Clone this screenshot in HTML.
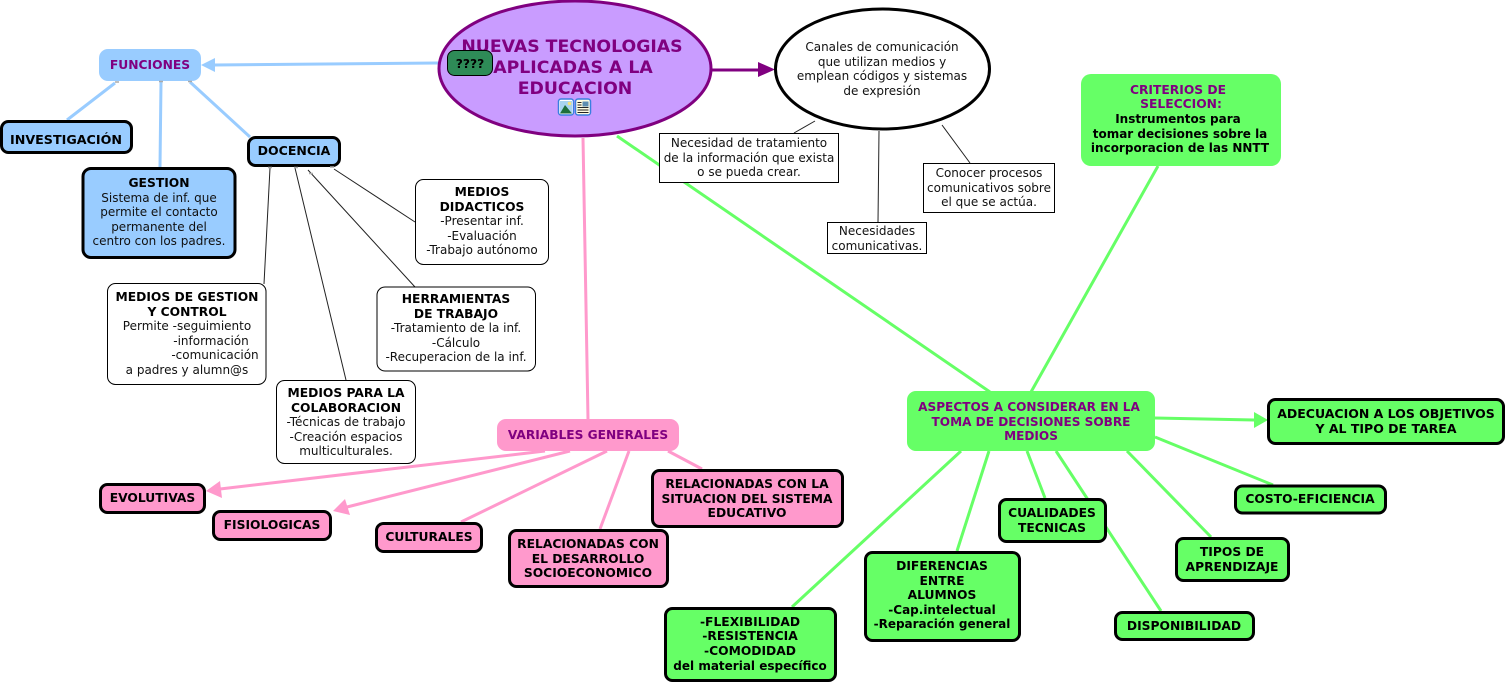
<!DOCTYPE html>
<html><head><meta charset="utf-8"><style>
html,body{margin:0;padding:0;background:#fff;width:1506px;height:683px;overflow:hidden}
svg{display:block}
text{font-family:"DejaVu Sans",Verdana,sans-serif;font-size:12px;text-anchor:middle;fill:#000}
.b{font-weight:bold;font-size:12.3px}
.l{font-weight:bold;font-size:12px}
.p{font-weight:bold;fill:#800080;font-size:12.3px}
.n{fill:#111;font-size:12px}
.t{font-weight:bold;fill:#800080;font-size:17.3px}
.box{stroke:#000;stroke-width:3}
.thin{fill:#fff;stroke:#000;stroke-width:1}
.bl{stroke:#99ccff;stroke-width:3;fill:none}
.pk{stroke:#ff99cc;stroke-width:3;fill:none}
.gr{stroke:#66ff66;stroke-width:3;fill:none}
.k{stroke:#222;stroke-width:1;fill:none}
</style></head><body>
<svg width="1506" height="683" viewBox="0 0 1506 683" xmlns="http://www.w3.org/2000/svg">
<!-- connectors -->
<path class="bl" d="M438 63L214 65M115 83L67 120M161 82L160 167M190 82L250 137"/>
<polygon points="201,65 215,58 215,72" fill="#99ccff"/>
<path d="M712 70H760" stroke="#800080" stroke-width="3" fill="none"/>
<polygon points="775,69.500 758,62 758,77" fill="#800080"/>
<path class="pk" d="M583 138L588 419M545 451L220 489M570 451L347 507M607 451L461 522M629 451L600 529M668 451L702 469"/>
<polygon points="206,491 220,481 222,498" fill="#ff99cc"/>
<polygon points="333,511 345,499 350,515" fill="#ff99cc"/>
<path class="gr" d="M617 136L990 392M1158 166L1031 392M961 451L792 607M989 451L957 551M1027 451L1045 498M1056 451L1161 611M1127 451L1211 537M1155 437L1273 485M1155 418L1254 420"/>
<polygon points="1268,420 1254,412 1254,428" fill="#66ff66"/>
<path class="k" d="M270 168L264 284M295 168L346 380M308 170L415 287M334 169L415 222M815 121L794 133M879 131L878 222M942 125L970 163"/>

<!-- main ellipse -->
<ellipse cx="575" cy="68.500" rx="136" ry="67.500" fill="#c99cff" stroke="#800080" stroke-width="3"/>
<text x="572" y="52" class="t">NUEVAS TECNOLOGIAS</text>
<text x="573" y="73" class="t">APLICADAS A LA</text>
<text x="575" y="94" class="t">EDUCACION</text>
<rect x="447.500" y="50.500" width="45" height="25" rx="7" fill="#2e8b57" stroke="#000" stroke-width="1"/>
<text x="470" y="68" class="b">????</text>
<!-- icons -->
<rect x="558.500" y="99" width="15" height="16" rx="2.500" fill="#fff" stroke="#3a7fe0" stroke-width="1.500"/>
<rect x="560" y="101" width="12" height="12.500" fill="#a8d4f0"/>
<polygon points="560,113.500 565,105 572,113.500" fill="#1e6e3a"/>
<circle cx="569.500" cy="103.500" r="1.800" fill="#f5e27a"/>
<rect x="575.500" y="99" width="15" height="16" rx="2.500" fill="#fffbe0" stroke="#3a7fe0" stroke-width="1.500"/>
<rect x="582.500" y="101.500" width="6" height="5" fill="#5d8db0"/>
<path d="M577.500 102.500h4M577.500 105h4M577.500 107.500h11M577.500 110h11M577.500 112.500h11" stroke="#222" stroke-width="1"/>

<!-- channel ellipse -->
<ellipse cx="882.500" cy="69" rx="107" ry="60" fill="#fff" stroke="#000" stroke-width="3"/>
<text x="882" y="51" class="n">Canales de comunicación</text>
<text x="882" y="66" class="n">que utilizan medios y</text>
<text x="882" y="80" class="n">emplean códigos y sistemas</text>
<text x="882" y="95" class="n">de expresión</text>

<rect class="thin" x="659.500" y="133.500" width="179" height="49"/>
<text x="749" y="147" class="n">Necesidad de tratamiento</text>
<text x="749" y="162" class="n">de la información que exista</text>
<text x="749" y="176" class="n">o se pueda crear.</text>
<rect class="thin" x="827.500" y="222.500" width="99" height="31"/>
<text x="877" y="235" class="n">Necesidades</text>
<text x="877" y="250" class="n">comunicativas.</text>
<rect class="thin" x="923.500" y="163.500" width="131" height="49"/>
<text x="989" y="177" class="n">Conocer procesos</text>
<text x="989" y="192" class="n">comunicativos sobre</text>
<text x="989" y="206" class="n">el que se actúa.</text>

<!-- criterios -->
<rect x="1081" y="74" width="200" height="92" rx="10" fill="#66ff66"/>
<text x="1178" y="94" class="p">CRITERIOS DE</text>
<text x="1181" y="108" class="p">SELECCION:</text>
<text x="1178" y="123" class="l">Instrumentos para</text>
<text x="1180" y="138" class="l">tomar decisiones sobre la</text>
<text x="1180" y="152" class="l">incorporacion de las NNTT</text>

<!-- blue -->
<rect x="99" y="49" width="102" height="32" rx="9" fill="#99ccff"/>
<text x="150" y="69" class="p">FUNCIONES</text>
<rect class="box" x="1.500" y="121.500" width="130" height="31" rx="7" fill="#99ccff"/>
<text x="66" y="144" class="b" style="font-size:12.700px">INVESTIGACIÓN</text>
<rect class="box" x="248.500" y="137.500" width="91" height="28" rx="7" fill="#99ccff"/>
<text x="294" y="155" class="b" style="font-size:12.500px">DOCENCIA</text>
<rect class="box" x="83" y="168.500" width="152" height="89" rx="8" fill="#99ccff"/>
<text x="159" y="187" class="b">GESTION</text>
<text x="159" y="202" class="n">Sistema de inf. que</text>
<text x="159" y="216" class="n">permite el contacto</text>
<text x="159" y="231" class="n">permanente del</text>
<text x="159" y="245" class="n">centro con los padres.</text>
<path d="M115 82h4M159 81.500h4M188 81.500h4M268 167.500h4M294 167.500h4M309 173.500h4M330 167h4" stroke="#aaa" stroke-width="1.500"/>

<!-- white round boxes -->
<rect class="thin" x="415.500" y="179.500" width="133" height="85" rx="8"/>
<text x="482" y="196" class="b">MEDIOS</text>
<text x="482" y="211" class="b">DIDACTICOS</text>
<text x="482" y="225" class="n">-Presentar inf.</text>
<text x="482" y="240" class="n">-Evaluación</text>
<text x="482" y="254" class="n">-Trabajo autónomo</text>

<rect class="thin" x="377" y="287" width="158.500" height="84" rx="8"/>
<text x="456" y="303" class="b">HERRAMIENTAS</text>
<text x="456" y="318" class="b">DE TRABAJO</text>
<text x="456" y="332" class="n">-Tratamiento de la inf.</text>
<text x="456" y="347" class="n">-Cálculo</text>
<text x="456" y="361" class="n">-Recuperacion de la inf.</text>

<rect class="thin" x="107.500" y="283.500" width="158.500" height="101" rx="8"/>
<text x="187" y="301" class="b">MEDIOS DE GESTION</text>
<text x="187" y="316" class="b">Y CONTROL</text>
<text x="187" y="330" class="n">Permite -seguimiento</text>
<text x="211" y="345" class="n">-información</text>
<text x="215" y="359" class="n">-comunicación</text>
<text x="187" y="374" class="n">a padres y alumn@s</text>

<rect class="thin" x="276.500" y="380.500" width="139" height="83" rx="8"/>
<text x="346" y="397" class="b">MEDIOS PARA LA</text>
<text x="346" y="412" class="b">COLABORACION</text>
<text x="346" y="426" class="n">-Técnicas de trabajo</text>
<text x="346" y="441" class="n">-Creación espacios</text>
<text x="346" y="455" class="n">multiculturales.</text>

<!-- pink -->
<rect x="497" y="419" width="182" height="32" rx="9" fill="#ff99cc"/>
<text x="588" y="439" class="p" style="font-size:12.200px">VARIABLES GENERALES</text>
<rect class="box" x="100.500" y="484.500" width="104" height="28" rx="7" fill="#ff99cc"/>
<text x="152.500" y="502" class="b">EVOLUTIVAS</text>
<rect class="box" x="213.500" y="511.500" width="117" height="28" rx="7" fill="#ff99cc"/>
<text x="272" y="529" class="b">FISIOLOGICAS</text>
<rect class="box" x="376.500" y="523.500" width="105" height="28" rx="7" fill="#ff99cc"/>
<text x="429" y="541" class="b">CULTURALES</text>
<rect class="box" x="509.500" y="530.500" width="158" height="56" rx="7" fill="#ff99cc"/>
<text x="588" y="548" class="b">RELACIONADAS CON</text>
<text x="588" y="563" class="b">EL DESARROLLO</text>
<text x="588" y="577" class="b">SOCIOECONOMICO</text>
<rect class="box" x="652.500" y="470.500" width="190" height="56" rx="7" fill="#ff99cc"/>
<text x="747" y="488" class="b">RELACIONADAS CON LA</text>
<text x="747" y="503" class="b">SITUACION DEL SISTEMA</text>
<text x="747" y="517" class="b">EDUCATIVO</text>

<!-- green -->
<rect x="907" y="391" width="248" height="60" rx="9" fill="#66ff66"/>
<text x="1029" y="411" class="p" style="font-size:12.100px">ASPECTOS A CONSIDERAR EN LA</text>
<text x="1031" y="426" class="p" style="font-size:12.100px">TOMA DE DECISIONES SOBRE</text>
<text x="1031" y="440" class="p" style="font-size:12.100px">MEDIOS</text>
<rect class="box" x="1268.500" y="399.500" width="235" height="44" rx="7" fill="#66ff66"/>
<text x="1386" y="418" class="b" style="font-size:12.500px">ADECUACION A LOS OBJETIVOS</text>
<text x="1386" y="433" class="b" style="font-size:12.500px">Y AL TIPO DE TAREA</text>
<rect class="box" x="1235.500" y="486" width="150" height="27" rx="7" fill="#66ff66"/>
<text x="1310" y="503" class="b">COSTO-EFICIENCIA</text>
<rect class="box" x="1176.500" y="538.500" width="112" height="42" rx="7" fill="#66ff66"/>
<text x="1232" y="556" class="b">TIPOS DE</text>
<text x="1232" y="571" class="b">APRENDIZAJE</text>
<rect class="box" x="999.500" y="499.500" width="106" height="42" rx="7" fill="#66ff66"/>
<text x="1052" y="517" class="b">CUALIDADES</text>
<text x="1052" y="532" class="b">TECNICAS</text>
<rect class="box" x="865.500" y="552.500" width="154" height="88" rx="7" fill="#66ff66"/>
<text x="942" y="570" class="b">DIFERENCIAS</text>
<text x="942" y="585" class="b">ENTRE</text>
<text x="942" y="599" class="b">ALUMNOS</text>
<text x="942" y="614" class="l">-Cap.intelectual</text>
<text x="942" y="628" class="l">-Reparación general</text>
<rect class="box" x="665.500" y="608.500" width="170" height="72" rx="7" fill="#66ff66"/>
<text x="750" y="626" class="b">-FLEXIBILIDAD</text>
<text x="750" y="640" class="b">-RESISTENCIA</text>
<text x="750" y="655" class="b">-COMODIDAD</text>
<text x="750" y="670" class="l">del material específico</text>
<rect class="box" x="1115.500" y="612.500" width="138" height="27" rx="7" fill="#66ff66"/>
<text x="1184" y="630" class="b">DISPONIBILIDAD</text>
</svg>
</body></html>
